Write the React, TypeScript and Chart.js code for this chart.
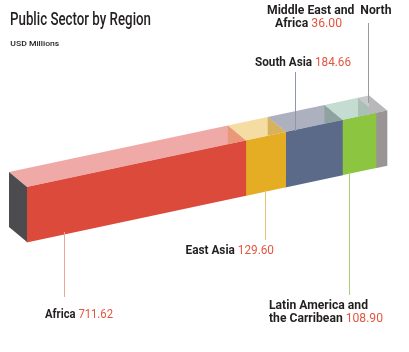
import React, { useEffect, useRef } from "react";
import { Chart, registerables } from "chart.js";

Chart.register(...registerables);

// ---- data ----
const categories = [
  "Africa",
  "East Asia",
  "South Asia",
  "Latin America and the Carribean",
  "Middle East and North Africa",
];
const values = [711.62, 129.6, 184.66, 108.9, 36.0];
const frontColors = ["#dc4a3b", "#e5ad23", "#5b6a89", "#8cc540", "#9a9594"];
const topColors = ["#efaaa7", "#f4dca3", "#adb0be", "#c4dcd1", "#c9c9cc"];
const wallColors = ["#e9997a", "#d7b25c", "#8ea39f", "#aabfb6"];
const endWallColor = "#b8b8bb";
const sideColor = "#4c4b4f";
const titleText = "Public Sector by Region";
const subtitleText = "USD Millions";

const total = values.reduce((a, b) => a + b, 0);
const fmt = (v: number) => v.toFixed(2);

// ---- geometry / styles ----
const K = 0.2125; // front face slope
const DX = -18; // depth vector
const DY = -15;
const DARK = "#231f20";
const RED = "#e4553f";

type Part = { t: string; c: string; w: string };
type Line = { parts: Part[]; x: number; y: number; width: number; size: number };

const nm = (t: string): Part => ({ t, c: DARK, w: "bold" });
const vl = (i: number): Part => ({ t: fmt(values[i]), c: RED, w: "normal" });

const labelLines: Line[] = [
  { parts: [nm("Middle East and  North")], x: 267, y: 13.5, width: 124.5, size: 13.5 },
  { parts: [nm("Africa "), vl(4)], x: 275, y: 26.7, width: 67, size: 13.5 },
  { parts: [nm("South Asia "), vl(2)], x: 255, y: 66, width: 96, size: 13.5 },
  { parts: [nm("East Asia "), vl(1)], x: 185.5, y: 253.5, width: 88.5, size: 13.5 },
  { parts: [nm("Africa "), vl(0)], x: 45, y: 317.5, width: 68, size: 13.5 },
  { parts: [nm("Latin America and")], x: 269, y: 308.5, width: 99, size: 13.5 },
  { parts: [nm("the Carribean "), vl(3)], x: 269, y: 321.5, width: 114, size: 13.5 },
];

const leaders = [
  { x: 64.5, y1: 232, y2: 297, c: "#eba59e" },
  { x: 265.5, y1: 190, y2: 240, c: "#e8c274" },
  { x: 349.5, y1: 172, y2: 295, c: "#a9d074" },
  { x: 295.5, y1: 72, y2: 131, c: "#8c96ae" },
  { x: 368.5, y1: 23, y2: 103, c: "#9d9a9a" },
];

function drawRich(ctx: CanvasRenderingContext2D, line: Line) {
  let natural = 0;
  const widths: number[] = [];
  for (const p of line.parts) {
    ctx.font = `${p.w} ${line.size}px Roboto`;
    const w = ctx.measureText(p.t).width;
    widths.push(w);
    natural += w;
  }
  const sx = line.width / natural;
  ctx.save();
  ctx.translate(line.x, line.y);
  ctx.scale(sx, 1);
  ctx.textBaseline = "alphabetic";
  ctx.textAlign = "left";
  let cx = 0;
  line.parts.forEach((p, i) => {
    ctx.font = `${p.w} ${line.size}px Roboto`;
    ctx.fillStyle = p.c;
    ctx.fillText(p.t, cx, 0);
    cx += widths[i];
  });
  ctx.restore();
}

function poly(ctx: CanvasRenderingContext2D, pts: number[][], color: string) {
  ctx.beginPath();
  ctx.moveTo(pts[0][0], pts[0][1]);
  for (let i = 1; i < pts.length; i++) ctx.lineTo(pts[i][0], pts[i][1]);
  ctx.closePath();
  ctx.fillStyle = color;
  ctx.fill();
}

const bar3d = {
  id: "bar3d",
  beforeDatasetsDraw(chart: any) {
    const ctx = chart.ctx;
    const x0 = chart.chartArea.left;
    ctx.save();
    ctx.transform(1, -K, 0, 1, 0, K * x0);
  },
  afterDatasetsDraw(chart: any) {
    const ctx: CanvasRenderingContext2D = chart.ctx;
    ctx.restore();
    const x0 = chart.chartArea.left;
    const f = (x: number, y: number) => y - K * (x - x0);
    const segs = chart.data.datasets.map((_: any, i: number) => {
      const el = chart.getDatasetMeta(i).data[0];
      const p = el.getProps(["x", "base", "y", "height"], true);
      return {
        L: Math.min(p.x, p.base),
        R: Math.max(p.x, p.base),
        top: p.y - p.height / 2,
        bot: p.y + p.height / 2,
      };
    });
    // top faces
    segs.forEach((s: any, i: number) => {
      const a = [s.L, f(s.L, s.top)];
      const b = [s.R, f(s.R, s.top)];
      poly(
        ctx,
        [a, b, [b[0] + DX, b[1] + DY], [a[0] + DX, a[1] + DY]],
        topColors[i]
      );
    });
    // inner walls seen through top
    segs.forEach((s: any, i: number) => {
      const color = i < segs.length - 1 ? wallColors[i] : endWallColor;
      const bx = s.R + DX;
      poly(
        ctx,
        [
          [bx, f(s.R, s.top) + DY],
          [s.R, f(s.R, s.top)],
          [bx, f(bx, s.top)],
        ],
        color
      );
    });
    // left side face
    const s0 = segs[0];
    poly(
      ctx,
      [
        [s0.L, f(s0.L, s0.top)],
        [s0.L + DX, f(s0.L, s0.top) + DY],
        [s0.L + DX, f(s0.L, s0.bot) + DY],
        [s0.L, f(s0.L, s0.bot)],
      ],
      sideColor
    );
  },
  afterDraw(chart: any) {
    const ctx: CanvasRenderingContext2D = chart.ctx;
    for (const l of leaders) {
      ctx.beginPath();
      ctx.moveTo(l.x, l.y1);
      ctx.lineTo(l.x, l.y2);
      ctx.strokeStyle = l.c;
      ctx.lineWidth = 1;
      ctx.stroke();
    }
    drawRich(ctx, {
      parts: [{ t: titleText, c: DARK, w: "500" }],
      x: 10,
      y: 25,
      width: 141,
      size: 17.5,
    });
    drawRich(ctx, {
      parts: [{ t: subtitleText, c: DARK, w: "500" }],
      x: 10.3,
      y: 45.7,
      width: 49,
      size: 8,
    });
    for (const line of labelLines) drawRich(ctx, line);
  },
};

export default function App() {
  const ref = useRef<HTMLCanvasElement | null>(null);
  useEffect(() => {
    document.body.style.margin = "0";
    const canvas = ref.current;
    if (!canvas) return;
    const chart = new Chart(canvas, {
      type: "bar",
      data: {
        labels: ["Public Sector"],
        datasets: categories.map((c, i) => ({
          label: c,
          data: [values[i]],
          backgroundColor: frontColors[i],
          borderWidth: 0,
          barPercentage: 1,
          categoryPercentage: 1,
          clip: false as any,
        })),
      },
      options: {
        indexAxis: "y",
        responsive: false,
        animation: false,
        layout: { padding: { left: 27, right: 22, top: 187, bottom: 110 } },
        scales: {
          x: { stacked: true, min: 0, max: total, display: false },
          y: { stacked: true, display: false },
        },
        plugins: {
          legend: { display: false },
          tooltip: { enabled: false },
          title: { display: false },
        },
      },
      plugins: [bar3d],
    });
    return () => chart.destroy();
  }, []);
  return (
    <div style={{ width: 409, height: 352, background: "#fff" }}>
      <canvas ref={ref} width={409} height={352} />
    </div>
  );
}
